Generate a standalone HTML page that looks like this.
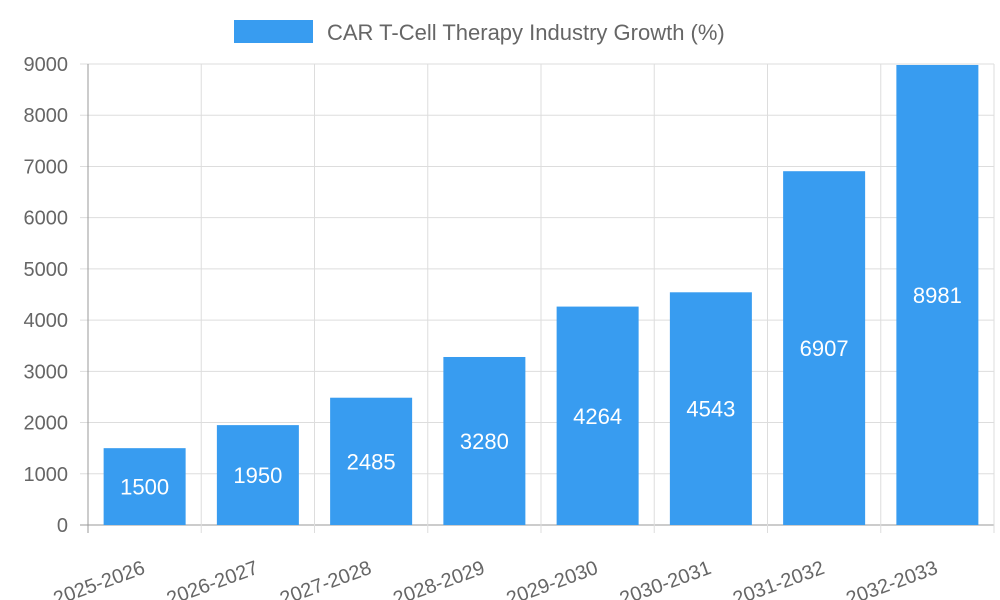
<!DOCTYPE html>
<html><head><meta charset="utf-8"><style>
body{margin:0;background:#fff;}
svg{display:block;font-family:"Liberation Sans",sans-serif;}
</style></head><body>
<svg id="chart" width="1000" height="600">
<g id="legend">
<rect x="234" y="20" width="79" height="23" fill="#389cf0"></rect>
<text x="327" y="40" font-size="22" fill="#666">CAR T-Cell Therapy Industry Growth (%)</text>
</g>
<g id="grid"></g><g id="bars"></g><g id="axes"></g>
</svg>
<script>
const categories=["2025-2026","2026-2027","2027-2028","2028-2029","2029-2030","2030-2031","2031-2032","2032-2033"];
const values=[1500,1950,2485,3280,4264,4543,6907,8981];
const yTicks=[0,1000,2000,3000,4000,5000,6000,7000,8000,9000];
const NS="http://www.w3.org/2000/svg";
const L=88,R=994,T=64,B=525,yMax=9000;
const bw=(R-L)/categories.length;
const y=v=>B-(v/yMax)*(B-T);
const x=i=>L+i*bw;
function mk(tag,attrs,parent){const e=document.createElementNS(NS,tag);for(const k in attrs)e.setAttribute(k,attrs[k]);parent.appendChild(e);return e;}
const grid=document.getElementById('grid'),bars=document.getElementById('bars'),axes=document.getElementById('axes');
yTicks.forEach(t=>{
 const l=mk('line',{x1:L-8,x2:R,y1:y(t),y2:y(t),stroke:t===0?'#999':'#ddd','stroke-width':1},grid);
 
 
 const tx=mk('text',{x:L-20,y:y(t)+7,'text-anchor':'end','font-size':20,fill:'#666'},axes);
 tx.textContent=t;
 
 
});
for(let i=0;i<=categories.length;i++){
 const l=mk('line',{x1:x(i),x2:x(i),y1:T,y2:B+8,stroke:i===0?'#999':'#ddd','stroke-width':1},grid);
 
 
}
categories.forEach((c,i)=>{
 const cx=x(i)+bw/2,w=82;
 const r=mk('rect',{x:cx-w/2,y:y(values[i]),width:w,height:B-y(values[i]),fill:'#389cf0'},bars);
 
 
 const vt=mk('text',{x:cx,y:(y(values[i])+B)/2+8,'text-anchor':'middle','font-size':22,fill:'#fff'},bars);
 vt.textContent=values[i];
 
 
 const xt=mk('text',{x:x(i)+bw-55,y:B+48,'text-anchor':'end','font-size':20,fill:'#666',transform:`rotate(-20 ${x(i)+bw-55} ${B+48})`},axes);
 xt.textContent=c;
 
 
});
</script>
</body></html>
